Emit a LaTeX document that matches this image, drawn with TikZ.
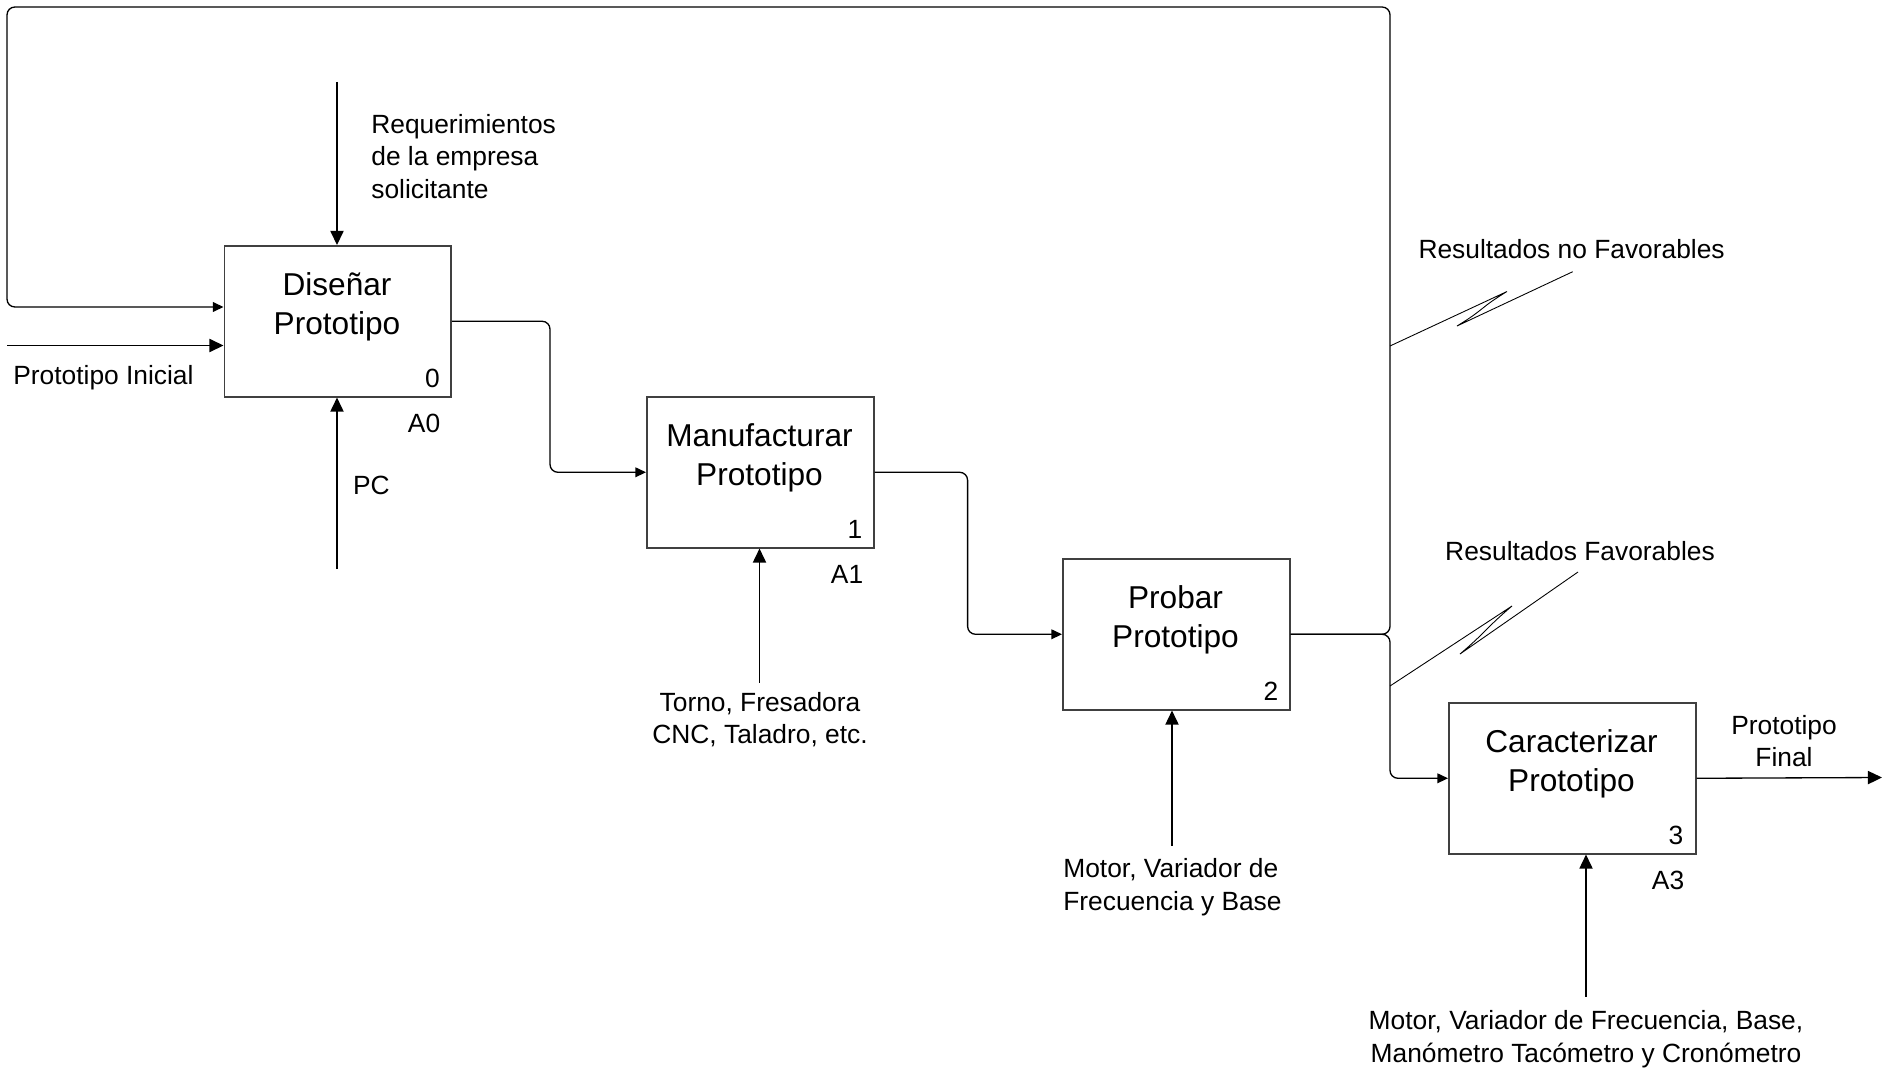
\documentclass[tikz,border=0pt]{standalone}
\usepackage{fontspec}
\setmainfont{Liberation Sans}
\usetikzlibrary{arrows.meta,calc}
\begin{document}
\begin{tikzpicture}[x=0.02cm,y=-0.02cm,
  box/.style={draw=black!75, line width=0.9pt, inner sep=0pt, anchor=north west, minimum height=3.02cm},
  ttl/.style={font=\fontsize{18}{21.9}\selectfont, align=center, inner sep=0pt},
  lbl/.style={font=\fontsize{15}{18.5}\selectfont, inner sep=0pt},
  ln/.style={line width=0.75pt, rounded corners=4.5pt},
  big/.style={ln, -{Triangle[length=8pt,width=7.5pt]}},
  sml/.style={ln, -{Triangle[length=6pt,width=5.5pt]}},
  zz/.style={line width=0.5pt}]
\useasboundingbox (0,0) rectangle (1894,1068);

% boxes
\node[box, minimum width=4.54cm] (a0) at (223.5,245) {};
\node[box, minimum width=4.54cm] (a1) at (646,396) {};
\node[box, minimum width=4.54cm] (a2) at (1062,558) {};
\node[box, minimum width=4.94cm] (a3) at (1448,702) {};

% titles
\node[ttl] (t0) at (337,307) {Diseñar\\Prototipo};
\node[ttl] (t1) at (759.5,458) {Manufacturar\\Prototipo};
\node[ttl] (t2) at (1175.5,620) {Probar\\Prototipo};
\node[ttl] (t3) at (1571.5,764) {Caracterizar\\Prototipo};

% numbers and node ids
\node[lbl, anchor=base east] (n0) at ($(a0.south east)+(-12,-10)$) {0};
\node[lbl, anchor=base east] (n1) at ($(a1.south east)+(-12,-10)$) {1};
\node[lbl, anchor=base east] (n2) at ($(a2.south east)+(-12,-10)$) {2};
\node[lbl, anchor=base east] (n3) at ($(a3.south east)+(-13,-10)$) {3};
\node[lbl, anchor=base east] (id0) at ($(a0.south east)+(-11.5,35)$) {A0};
\node[lbl, anchor=base east] (id1) at ($(a1.south east)+(-11,35)$) {A1};
\node[lbl, anchor=base east] (id3) at ($(a3.south east)+(-12,35)$) {A3};

% coordinates
\coordinate (jx) at (1390,0);
\coordinate (c1) at (550,0);
\coordinate (c2) at (967.6,0);
\coordinate (tr) at (1390,7);
\coordinate (tl) at (7,7);
\coordinate (fb) at (7,307);
\coordinate (pin) at (7,345.5);
\coordinate (pout) at (1882,777.5);
\coordinate (m0) at (337,82);
\coordinate (pc) at (337,569);
\coordinate (m1) at (759.5,682.5);
\coordinate (m2) at (1172,845.6);
\coordinate (m3) at (1586,996.6);

% connectors
\draw[sml] (a2.east) -- (a2.east -| jx) -- (tr) -- (tl) -- (fb) -- (fb -| a0.west);
\draw[sml] (a2.east) -- (a2.east -| jx) -- (jx |- a3.west) -- (a3.west);
\draw[sml] (a0.east) -- (a0.east -| c1) -- (c1 |- a1.west) -- (a1.west);
\draw[sml] (a1.east) -- (a1.east -| c2) -- (c2 |- a2.west) -- (a2.west);
\draw[big] (pin) -- (pin -| a0.west);
\draw[big] (a3.east) -- (pout);
\draw[big] (m0) -- (m0 |- a0.north);
\draw[big] (pc) -- (pc |- a0.south);
\draw[big] (m1) -- (m1 |- a1.south);
\draw[big] (m2) -- (m2 |- a2.south);
\draw[big] (m3) -- (m3 |- a3.south);

% squiggles
\coordinate (s1a) at (1390,346);
\coordinate (s1t) at (1507,291.5);
\coordinate (s1u) at (1457,326);
\coordinate (s1b) at (1572.7,271.7);
\coordinate (s2a) at (1390,686);
\coordinate (s2t) at (1512,606);
\coordinate (s2u) at (1460,654);
\coordinate (s2b) at (1578,572);
\draw[zz] (s1a) -- (s1t) .. controls +(-28,17) and +(28,-17) .. (s1u) -- (s1b);
\draw[zz] (s2a) -- (s2t) .. controls +(-26,22) and +(26,-22) .. (s2u) -- (s2b);

% labels
\node[lbl, anchor=west, align=left] (lreq) at (371,156.5) {Requerimientos\\de la empresa\\solicitante};
\node[lbl, anchor=base west] (lpi) at (13,384) {Prototipo Inicial};
\node[lbl, anchor=base west] (lpc) at (352.7,494) {PC};
\node[lbl, align=center] (lm1) at (760,719.5) {Torno, Fresadora\\CNC, Taladro, etc.};
\node[lbl, anchor=west, align=left] (lm2) at (1063,887) {Motor, Variador de\\Frecuencia y Base};
\node[lbl, align=center] (lm3) at (1586,1039) {Motor, Variador de Frecuencia, Base,\\Manómetro Tacómetro y Cronómetro};
\node[lbl, align=center] (lpf) at (1784,741) {Prototipo\\Final};
\node[lbl] (lnf) at (1571.6,248.8) {Resultados no Favorables};
\node[lbl] (lf) at (1580,551) {Resultados Favorables};
\end{tikzpicture}
\end{document}
